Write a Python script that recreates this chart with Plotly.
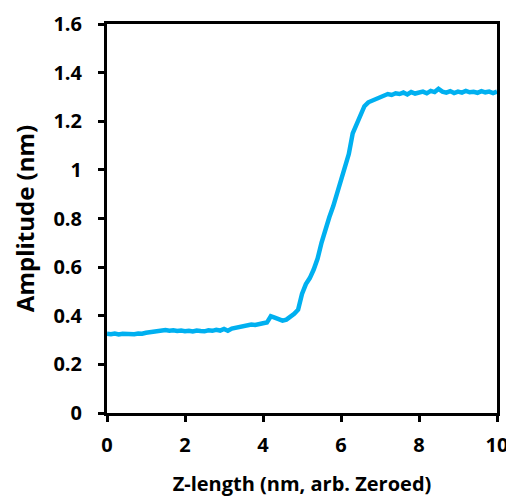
import plotly.graph_objects as go

# Z-length (nm) sampled every 0.1 nm
z_length = [round(i * 0.1, 1) for i in range(101)]

amplitude = [
    0.326, 0.324, 0.327, 0.323, 0.326, 0.325, 0.328, 0.324, 0.327, 0.326,
    0.330, 0.332, 0.334, 0.337, 0.339, 0.341, 0.338, 0.340, 0.337, 0.339,
    0.336, 0.338, 0.335, 0.339, 0.337, 0.336, 0.340, 0.338, 0.342, 0.339,
    0.346, 0.338, 0.347, 0.350, 0.354, 0.357, 0.361, 0.364, 0.362, 0.367,
    0.369, 0.372, 0.398, 0.392, 0.388, 0.380, 0.384, 0.395, 0.408, 0.425,
    0.490, 0.530, 0.555, 0.590, 0.635, 0.700, 0.760, 0.805, 0.850, 0.905,
    0.950, 1.000, 1.065, 1.150, 1.190, 1.225, 1.262, 1.278, 1.285, 1.293,
    1.300, 1.305, 1.312, 1.308, 1.315, 1.312, 1.318, 1.310, 1.320, 1.314,
    1.317, 1.322, 1.315, 1.325, 1.320, 1.333, 1.322, 1.318, 1.324, 1.316,
    1.322, 1.318, 1.325, 1.319, 1.321, 1.317, 1.324, 1.319, 1.322, 1.316,
    1.322,
]

x_ticks = [0, 2, 4, 6, 8, 10]
y_ticks = [0, 0.2, 0.4, 0.6, 0.8, 1, 1.2, 1.4, 1.6]

FONT = "Open Sans"

fig = go.Figure(go.Scatter(
    x=z_length,
    y=amplitude,
    mode="lines",
    line=dict(color="#00B0F0", width=4.5),
    showlegend=False,
))

axis_common = dict(
    showline=True,
    linecolor="black",
    linewidth=3,
    mirror=True,
    showgrid=False,
    zeroline=False,
    automargin=False,
    ticks="outside",
    ticklen=6,
    tickwidth=3,
    tickcolor="black",
    tickfont=dict(family=FONT, size=20, color="black", weight="bold"),
)

# page body has an 8px margin, so the figure is 8px smaller each way
fig.update_layout(
    width=506,
    height=489,
    plot_bgcolor="white",
    paper_bgcolor="white",
    margin=dict(l=99, r=17, t=16, b=84),
    xaxis=dict(
        range=[0, 10],
        tickvals=x_ticks,
        title=dict(text="<b>Z-length (nm, arb. Zeroed)</b>",
                   font=dict(family=FONT, size=20, color="black"), standoff=22),
        ticklabelstandoff=6,
        **axis_common,
    ),
    yaxis=dict(
        range=[0, 1.6],
        tickvals=y_ticks,
        title=dict(text="<b>Amplitude (nm)</b>",
                   font=dict(family=FONT, size=24, color="black"), standoff=18),
        ticklabelstandoff=12,
        **axis_common,
    ),
)

fig.write_html("out.html")
